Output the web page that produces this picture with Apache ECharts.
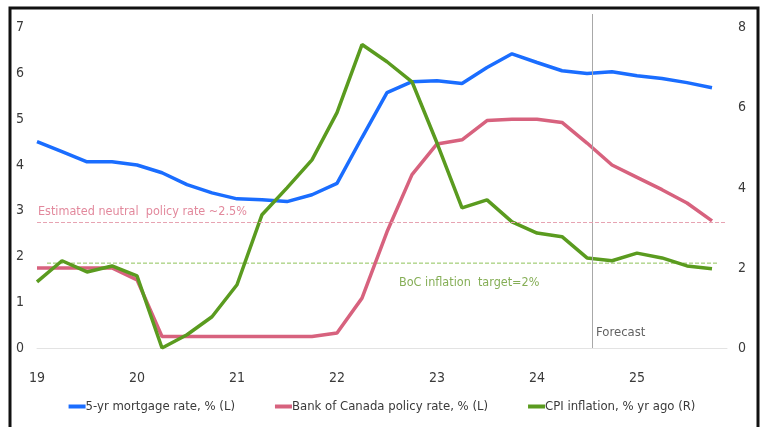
<!DOCTYPE html>
<html><head><meta charset="utf-8">
<script src="https://cdn.jsdelivr.net/npm/echarts@6/dist/echarts.min.js"></script>
<style>html,body{margin:0;padding:0;background:#fff}#c{width:764px;height:427px}</style>
</head><body><div id="c"></div>
<script>
const quarters = ['2019Q1','2019Q2','2019Q3','2019Q4','2020Q1','2020Q2','2020Q3','2020Q4',
  '2021Q1','2021Q2','2021Q3','2021Q4','2022Q1','2022Q2','2022Q3','2022Q4',
  '2023Q1','2023Q2','2023Q3','2023Q4','2024Q1','2024Q2','2024Q3','2024Q4',
  '2025Q1','2025Q2','2025Q3','2025Q4'];
const mortgageRate = [4.51,4.29,4.07,4.07,4.0,3.83,3.57,3.39,3.26,3.24,3.2,3.35,3.6,4.6,
  5.58,5.82,5.84,5.78,6.13,6.43,6.24,6.06,6.0,6.04,5.95,5.89,5.8,5.69];
const policyRate = [1.75,1.75,1.75,1.75,1.49,0.25,0.25,0.25,0.25,0.25,0.25,0.25,0.33,1.09,
  2.54,3.79,4.46,4.55,4.97,5.0,5.0,4.93,4.48,4.0,3.73,3.46,3.17,2.78];
const cpiInflation = [1.65,2.18,1.9,2.05,1.8,0.0,0.33,0.78,1.58,3.33,4.0,4.7,5.88,7.58,
  7.15,6.65,5.12,3.5,3.7,3.15,2.87,2.78,2.25,2.18,2.37,2.25,2.05,1.98];
const xTickLabels = ['19','20','21','22','23','24','25'];
const neutralRate = 2.75;      // drawn position of the "~2.5%" line (left axis)
const inflationTarget = 2.12;  // drawn position of the 2% target line (right axis)
const targetSpan = [2019.1, 2025.82];
const forecastStart = 2024.55;
const leftTop = 7.3;           // axis headroom above the last labelled tick
const rightTop = 8 * leftTop / 7;

const xVal = q => Number(q.slice(0,4)) + (Number(q.slice(5)) - 1) / 4;
const pairs = arr => quarters.map((q, i) => [xVal(q), arr[i]]);
const intOnly = v => Number.isInteger(v) ? String(v) : '';

const FONT = '"DejaVu Sans Condensed","Liberation Sans Narrow","Liberation Sans",sans-serif';
const TXT = '#3a3a3a';
const chart = echarts.init(document.getElementById('c'));
chart.setOption({
  animation: false,
  textStyle: { fontFamily: FONT },
  graphic: [{
    type: 'rect', shape: { x: 10, y: 8, width: 748, height: 430 },
    style: { fill: 'none', stroke: '#111', lineWidth: 3 }, silent: true
  }],
  grid: { left: 37, right: 37, top: 14, bottom: 79 },
  legend: {
    bottom: 9, left: 'center', icon: 'rect', itemWidth: 17, itemHeight: 4, itemGap: 40,
    textStyle: { fontFamily: FONT, fontSize: 13, color: TXT, padding: [0,0,0,-5] },
    data: ['5-yr mortgage rate, % (L)', 'Bank of Canada policy rate, % (L)', 'CPI inflation, % yr ago (R)']
  },
  xAxis: {
    type: 'value', min: 2019, max: 2025.9, interval: 1,
    axisLine: { show: true, lineStyle: { color: '#e3e3e3', width: 1 } },
    axisTick: { show: false }, splitLine: { show: false },
    axisLabel: {
      fontFamily: FONT, fontSize: 14, color: TXT, margin: 23,
      showMaxLabel: false,
      formatter: v => Number.isInteger(v) ? xTickLabels[v - 2019] : ''
    }
  },
  yAxis: [
    { type: 'value', min: 0, max: leftTop, interval: 1, position: 'left',
      axisLine: { show: false }, axisTick: { show: false }, splitLine: { show: false },
      axisLabel: { fontFamily: FONT, fontSize: 14, color: TXT, margin: 13, formatter: intOnly } },
    { type: 'value', min: 0, max: rightTop, interval: 2, position: 'right',
      axisLine: { show: false }, axisTick: { show: false }, splitLine: { show: false },
      axisLabel: { fontFamily: FONT, fontSize: 14, color: TXT, margin: 11, formatter: intOnly } }
  ],
  series: [
    { name: 'BoC inflation target', type: 'line', yAxisIndex: 1, silent: true, z: 1,
      data: targetSpan.map(x => [x, inflationTarget]), symbol: 'none',
      lineStyle: { color: '#8fc258', type: 'dashed', width: 1 } },
    { name: '5-yr mortgage rate, % (L)', type: 'line', yAxisIndex: 0, data: pairs(mortgageRate),
      symbol: 'none', lineStyle: { color: '#1a6dff', width: 3.5 }, itemStyle: { color: '#1a6dff' }, z: 3,
      markLine: { silent: true, symbol: 'none', label: { show: false },
        lineStyle: { color: '#a8a8a8', type: 'solid', width: 1 },
        data: [{ xAxis: forecastStart }] } },
    { name: 'Bank of Canada policy rate, % (L)', type: 'line', yAxisIndex: 0, data: pairs(policyRate),
      symbol: 'none', lineStyle: { color: '#d7627e', width: 3.5 }, itemStyle: { color: '#d7627e' }, z: 2,
      markLine: { silent: true, symbol: 'none',
        lineStyle: { color: '#e7a3b2', type: 'dashed', width: 1 },
        label: { show: false },
        data: [{ yAxis: neutralRate }] } },
    { name: 'CPI inflation, % yr ago (R)', type: 'line', yAxisIndex: 1, data: pairs(cpiInflation),
      symbol: 'none', lineStyle: { color: '#5a9b1f', width: 3.5 }, itemStyle: { color: '#5a9b1f' }, z: 4 },
    { type: 'scatter', yAxisIndex: 0, symbolSize: 0, silent: true, z: 5,
      data: [
        { value: [2019.02, neutralRate],
          label: { show: true, position: 'right', offset: [-6, -10], formatter: 'Estimated neutral  policy rate ~2.5%',
            fontFamily: FONT, fontSize: 12.5, color: '#db6a83' } },
        { value: [2022.63, 1.43],
          label: { show: true, position: 'right', offset: [-6, 0], formatter: 'BoC inflation  target=2%',
            fontFamily: FONT, fontSize: 12.5, color: '#669a2c' } },
        { value: [2024.6, 0.33],
          label: { show: true, position: 'right', offset: [-6, 0], formatter: 'Forecast',
            fontFamily: FONT, fontSize: 13, color: TXT } }
      ] }
  ]
});
</script></body></html>
